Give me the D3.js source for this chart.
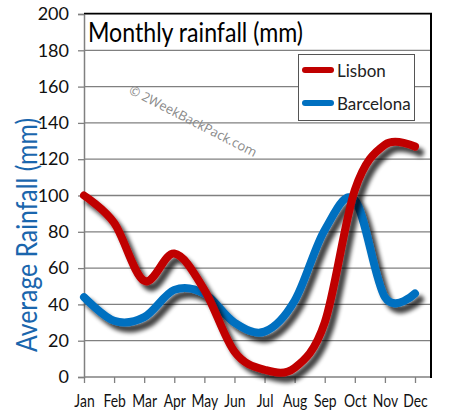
<!DOCTYPE html>
<html><head><meta charset="utf-8">
<script src="https://cdn.jsdelivr.net/npm/d3@7"></script>
<style>body{margin:0;background:#fff}svg{display:block}</style>
</head><body>
<script>
const months = ["Jan","Feb","Mar","Apr","May","Jun","Jul","Aug","Sep","Oct","Nov","Dec"];
const lisbon = [100, 85, 53, 68, 48, 14, 4, 5, 30, 103, 128, 127];
const barcelona = [44, 31, 33, 48, 46, 30, 25, 42, 81, 97.5, 44, 46];
const yTicks = [0,20,40,60,80,100,120,140,160,180,200];
const seriesNames = ["Lisbon","Barcelona"];
const seriesColors = ["#c00000","#0070c0"];

const W = 451, H = 418;
const FONT = "Lato,'Open Sans',sans-serif";
const svg = d3.select("body").append("svg").attr("width", W).attr("height", H);

const x = d3.scalePoint().domain(months).range([84, 415]);
const y = d3.scaleLinear().domain([0, 200]).range([377, 14]);

const defs = svg.append("defs");
const f = defs.append("filter").attr("id","shadow").attr("x","-20%").attr("y","-20%").attr("width","140%").attr("height","140%");
f.append("feGaussianBlur").attr("in","SourceAlpha").attr("stdDeviation",2.2).attr("result","b");
f.append("feOffset").attr("in","b").attr("dx",5).attr("dy",6).attr("result","o");
f.append("feComponentTransfer").attr("in","o").attr("result","s")
  .append("feFuncA").attr("type","linear").attr("slope",0.75);
const m = f.append("feMerge");
m.append("feMergeNode").attr("in","s");
m.append("feMergeNode").attr("in","SourceGraphic");

// gridlines
svg.append("g").selectAll("line").data(yTicks.slice(1)).join("line")
  .attr("x1", 84).attr("x2", 431).attr("y1", d => y(d)).attr("y2", d => y(d))
  .attr("stroke", "#808080").attr("stroke-width", 1.3);

// y axis
const yAxis = svg.append("g").attr("transform","translate(84,0)")
  .call(d3.axisLeft(y).tickValues(yTicks).tickSize(6).tickPadding(9));
yAxis.select(".domain").attr("stroke","#808080").attr("stroke-width",1.5);
yAxis.selectAll(".tick line").attr("stroke","#808080").attr("stroke-width",1.3);
yAxis.selectAll("text").attr("font-family",FONT).attr("font-size",18).attr("fill","#111");

// x axis
const xAxis = svg.append("g").attr("transform","translate(0,377)")
  .call(d3.axisBottom(x).tickSize(6).tickPadding(12));
xAxis.select(".domain").attr("d","M84,0H431").attr("stroke","#808080").attr("stroke-width",1.5);
xAxis.selectAll(".tick line").attr("stroke","#808080").attr("stroke-width",1.3);
xAxis.selectAll("text").attr("font-family",FONT).attr("font-size",17).attr("fill","#111")
  .attr("transform","scale(0.82,1)");

// frame top and right
svg.append("line").attr("x1",84).attr("x2",432).attr("y1",13.5).attr("y2",13.5).attr("stroke","#000").attr("stroke-width",1.5);
svg.append("line").attr("x1",431).attr("x2",431).attr("y1",13).attr("y2",378).attr("stroke","#000").attr("stroke-width",2);

// title
svg.append("text").attr("x",88).attr("y",42).attr("font-family",FONT).attr("font-size",26)
  .attr("fill","#000").attr("textLength",215).attr("lengthAdjust","spacingAndGlyphs")
  .text("Monthly rainfall (mm)");

// watermark
svg.append("text").attr("transform","translate(128,93) rotate(27)")
  .attr("font-family","'Open Sans',sans-serif").attr("font-size",13).attr("fill","#8a8a8a")
  .text("\u00a9 2WeekBackPack.com");

// y label
svg.append("text").attr("transform","translate(37,235) rotate(-90)").attr("text-anchor","middle")
  .attr("font-family",FONT).attr("font-size",29).attr("fill","#1a66ad")
  .attr("textLength",234).attr("lengthAdjust","spacingAndGlyphs")
  .text("Average Rainfall (mm)");

// lines
const line = d3.line().x((d,i) => x(months[i])).y(d => y(d)).curve(d3.curveCardinal.tension(0));
const data = [barcelona, lisbon];
const cols = [seriesColors[1], seriesColors[0]];
svg.append("g").selectAll("path").data(data).join("path")
  .attr("d", line).attr("fill","none").attr("stroke",(d,i)=>cols[i])
  .attr("stroke-width",8).attr("stroke-linecap","round").attr("stroke-linejoin","round")
  .attr("filter","url(#shadow)");

// legend
const lg = svg.append("g");
lg.append("rect").attr("x",298.5).attr("y",54.5).attr("width",116).attr("height",66)
  .attr("fill","#fff").attr("stroke","#555").attr("stroke-width",1);
const items = lg.selectAll("g").data(seriesNames).join("g")
  .attr("transform",(d,i)=>`translate(0,${70 + i*33})`);
items.append("line").attr("x1",305).attr("x2",331).attr("y1",0).attr("y2",0)
  .attr("stroke",(d,i)=>seriesColors[i]).attr("stroke-width",6).attr("stroke-linecap","round");
items.append("text").attr("x",337).attr("y",7).attr("font-family",FONT).attr("font-size",17)
  .attr("fill","#222").text(d=>d);
</script>
</body></html>
